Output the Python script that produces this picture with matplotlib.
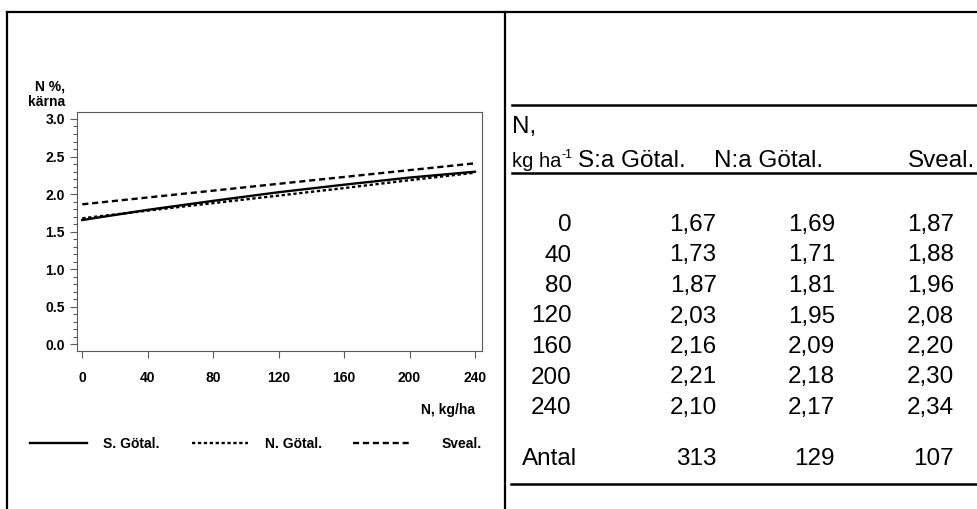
import matplotlib
matplotlib.use('Agg')
import matplotlib.pyplot as plt
from matplotlib.lines import Line2D
from matplotlib.ticker import MultipleLocator

# values
n_doses = [0, 40, 80, 120, 160, 200, 240]
s_gotal_fit = [1.655, 1.79, 1.91, 2.025, 2.125, 2.22, 2.298]
n_gotal_fit = [1.678, 1.78, 1.88, 1.98, 2.08, 2.185, 2.285]
sveal_fit = [1.864, 1.955, 2.046, 2.137, 2.228, 2.319, 2.41]
series_names = ['S. Götal.', 'N. Götal.', 'Sveal.']

table_heads = ['S:a Götal.', 'N:a Götal.', 'Sveal.']
s_gotal_tab = [1.67, 1.73, 1.87, 2.03, 2.16, 2.21, 2.10]
n_gotal_tab = [1.69, 1.71, 1.81, 1.95, 2.09, 2.18, 2.17]
sveal_tab = [1.87, 1.88, 1.96, 2.08, 2.20, 2.30, 2.34]
antal = [313, 129, 107]

plt.rcParams['font.family'] = ['Liberation Sans', 'DejaVu Sans']

W, H = 978, 509


def fx(x):
    return x / W


def fy(y):
    return 1 - y / H


fig = plt.figure(figsize=(W / 100, H / 100), dpi=100)


def hline(y, x0, x1, lw=1.6):
    fig.add_artist(Line2D([fx(x0), fx(x1)], [fy(y), fy(y)], transform=fig.transFigure,
                          color='black', lw=lw))


def vline(x, y0, y1, lw=1.6):
    fig.add_artist(Line2D([fx(x), fx(x)], [fy(y0), fy(y1)], transform=fig.transFigure,
                          color='black', lw=lw))


# frame round the two panels
hline(12, 7, W)
vline(7, 12, H)
vline(505.5, 12, H)

# ---- left panel: the plot
styles = [dict(ls='-'), dict(ls=(0, (1.4, 1.1))), dict(ls=(0, (2.6, 1.6)))]
ax = fig.add_axes([fx(76.7), fy(350.7), (481.5 - 76.7) / W, (350.7 - 111.7) / H])
for ys, st in zip([s_gotal_fit, n_gotal_fit, sveal_fit], styles):
    ax.plot(n_doses, ys, color='black', lw=1.7, **st)

ax.set_xlim(-3.4, 244)
ax.set_ylim(-0.085, 3.097)
ax.set_xticks(n_doses)
ax.set_yticks([0, 0.5, 1.0, 1.5, 2.0, 2.5, 3.0])
ax.set_yticklabels(['0.0', '0.5', '1.0', '1.5', '2.0', '2.5', '3.0'])
ax.yaxis.set_minor_locator(MultipleLocator(0.1))
for sp in ax.spines.values():
    sp.set_color('0.35')
    sp.set_linewidth(0.8)
ax.tick_params(axis='x', direction='out', length=5, width=0.8, color='0.35', pad=9.5,
               labelsize=10)
ax.tick_params(axis='y', which='major', direction='out', length=5, width=0.8, color='0.35',
               pad=3.6, labelsize=10)
ax.tick_params(axis='y', which='minor', direction='out', length=3, width=0.8, color='0.35')
for lab in ax.get_xticklabels() + ax.get_yticklabels():
    lab.set_fontweight('bold')

fig.text(fx(65), fy(90), 'N %,', ha='right', va='baseline', fontsize=10, fontweight='bold')
fig.text(fx(65), fy(106.5), 'kärna', ha='right', va='baseline', fontsize=10, fontweight='bold')
fig.text(fx(475), fy(414), 'N, kg/ha', ha='right', va='baseline', fontsize=10,
         fontweight='bold')

# legend
leg_y = 443
for (x0, x1), st in zip([(30, 87), (192, 248), (353, 410)], styles):
    fig.add_artist(Line2D([fx(x0), fx(x1)], [fy(leg_y), fy(leg_y)],
                          transform=fig.transFigure, color='black', lw=1.7, **st))
fig.text(fx(103), fy(leg_y + 5), series_names[0], ha='left', va='baseline', fontsize=10,
         fontweight='bold')
fig.text(fx(265), fy(leg_y + 5), series_names[1], ha='left', va='baseline', fontsize=10,
         fontweight='bold')
fig.text(fx(482), fy(leg_y + 5), series_names[2], ha='right', va='baseline', fontsize=10,
         fontweight='bold')

# ---- right panel: the table
fs = 17.5
hline(105, 512, W, lw=1.8)
hline(172.7, 512, W, lw=1.8)
hline(484, 511, W, lw=1.8)

fig.text(fx(512), fy(133), 'N,', ha='left', va='baseline', fontsize=fs)
fig.text(fx(512), fy(167), 'kg ha', ha='left', va='baseline', fontsize=14.5)
fig.text(fx(561), fy(157.5), '-1', ha='left', va='baseline', fontsize=9)
for x, h in zip([578, 714, 908], table_heads):
    fig.text(fx(x), fy(167), h, ha='left', va='baseline', fontsize=fs)

col_right = [571.7, 716.7, 835, 954]
row_base = [231, 261.5, 292, 322.5, 353, 383.5, 414]
for i, dose in enumerate(n_doses):
    y = fy(row_base[i])
    fig.text(fx(col_right[0]), y, str(dose), ha='right', va='baseline', fontsize=fs)
    for j, col in enumerate([s_gotal_tab, n_gotal_tab, sveal_tab]):
        txt = f'{col[i]:.2f}'.replace('.', ',')
        fig.text(fx(col_right[j + 1]), y, txt, ha='right', va='baseline', fontsize=fs)

fig.text(fx(522), fy(465), 'Antal', ha='left', va='baseline', fontsize=fs)
for j, n in enumerate(antal):
    fig.text(fx(col_right[j + 1]), fy(465), str(n), ha='right', va='baseline', fontsize=fs)

fig.savefig('out.png', dpi=100)
